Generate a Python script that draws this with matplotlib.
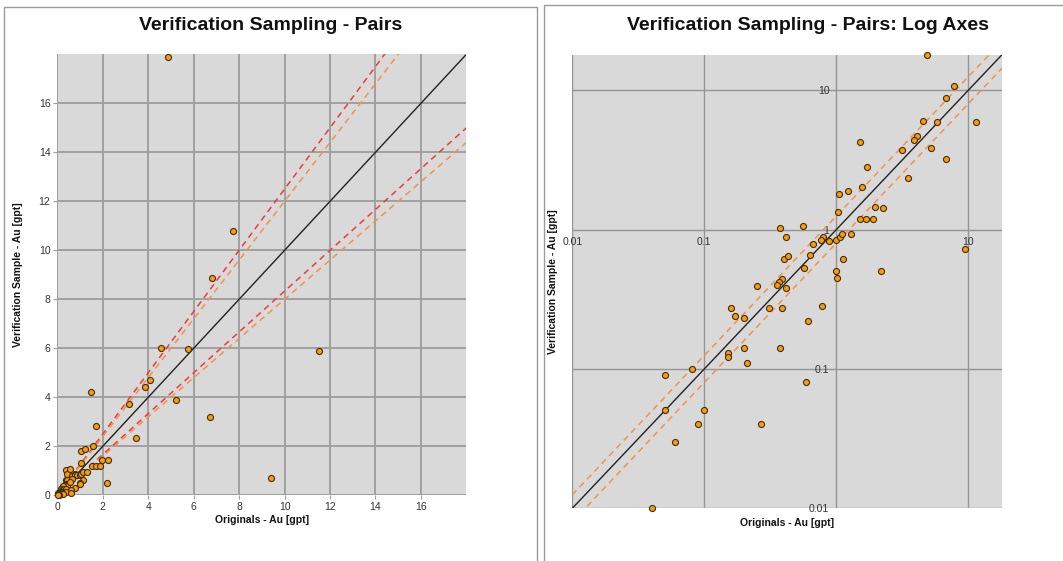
import matplotlib
matplotlib.use("Agg")
import matplotlib.pyplot as plt
from matplotlib.patches import Rectangle
import numpy as np

# ---- data (Originals vs Verification, Au gpt) ----
originals = [0.377, 0.418, 0.399, 0.428, 0.387, 0.367, 0.357, 0.418, 0.249, 0.160,
             0.170, 0.200, 0.309, 0.387, 0.200, 0.377, 0.151, 0.151, 0.209, 0.080,
             0.050, 0.050, 0.099, 0.0895, 0.268, 0.0596, 0.040, 0.558, 1.047, 1.233,
             1.028, 0.665, 0.791, 0.769, 0.879, 1.00, 1.06, 1.11, 1.30, 1.13,
             1.00, 1.02, 0.628, 0.573, 0.783, 0.614, 1.72, 1.56, 3.47, 1.96,
             2.24, 1.52, 1.69, 1.89, 2.19, 4.86, 7.74, 6.81, 4.56, 5.75,
             11.5, 4.08, 3.87, 3.16, 5.21, 6.73, 1.50, 9.40, 0.585]
verification = [1.03, 0.887, 0.62, 0.644, 0.444, 0.422, 0.402, 0.383, 0.391, 0.273,
                0.241, 0.231, 0.273, 0.273, 0.141, 0.141, 0.130, 0.121, 0.111, 0.100,
                0.091, 0.0506, 0.0506, 0.040, 0.040, 0.030, 0.010, 1.06, 1.79, 1.90,
                1.33, 0.794, 0.881, 0.848, 0.834, 0.844, 0.887, 0.936, 0.936, 0.62,
                0.506, 0.451, 0.655, 0.526, 0.282, 0.221, 2.81, 2.02, 2.33, 1.46,
                1.44, 1.20, 1.20, 1.20, 0.503, 17.9, 10.8, 8.85, 6.00, 5.96,
                5.90, 4.71, 4.43, 3.72, 3.88, 3.19, 4.22, 0.72, 0.0807]

lin_ticks = [0, 2, 4, 6, 8, 10, 12, 14, 16]
lin_limit = 18
log_ticks = [0.01, 0.1, 1, 10]
log_xtick_labels = ["0.01", "0.1", "", "10"]
log_ytick_labels = ["0.01", "0.1", "1", "10"]
log_limits = (0.01, 18)

# tolerance lines: slopes
red_slopes = [1.25, 1 / 1.2]
orange_slopes = [1.2, 0.8]
log_orange_slopes = [1.25, 0.8]

BG = "#d9d9d9"
GRID = "#a0a0a0"
MARK = "#ff9a00"
EDGE = "#3a2e1a"
RED = "#ee3a3a"
ORANGE = "#f5904a"
TXT = "#333333"

title_font = ["Liberation Sans Narrow", "Liberation Sans", "DejaVu Sans"]
body_font = ["Liberation Sans", "DejaVu Sans"]
plt.rcParams["font.family"] = body_font

fig = plt.figure(figsize=(10.63, 5.61), dpi=100)
W, H = 1063.0, 561.0

# panel frames
fig.add_artist(Rectangle((4 / W, -0.02), (537 - 4) / W, (561 - 7) / H + 0.02,
                         transform=fig.transFigure, fill=False, edgecolor="#9a9a9a", lw=1.0))
fig.add_artist(Rectangle((544 / W, -0.02), 0.5, (561 - 5) / H + 0.02,
                         transform=fig.transFigure, fill=False, edgecolor="#9a9a9a", lw=1.0))

fig.text(271 / W, 1 - 25 / H, "Verification Sampling - Pairs", ha="center", va="center",
         fontsize=14, fontweight="bold", family=title_font, color="#111111")
fig.text(808 / W, 1 - 25 / H, "Verification Sampling - Pairs: Log Axes", ha="center", va="center",
         fontsize=14, fontweight="bold", family=title_font, color="#111111")

# ---------------- left: linear axes ----------------
ax1 = fig.add_axes([57.3 / W, (H - 495.3) / H, 409.1 / W, 441.0 / H])
ax1.set_facecolor(BG)
ax1.set_axisbelow(True)
ax1.set_xlim(0, lin_limit)
ax1.set_ylim(0, lin_limit)
ax1.set_xticks(lin_ticks)
ax1.set_yticks(lin_ticks)
ax1.grid(True, color=GRID, lw=1.4)
for s in ax1.spines.values():
    s.set_visible(False)
ax1.tick_params(length=3, color=GRID, labelsize=7.5, labelcolor=TXT, pad=2)

xx = np.array([0, lin_limit])
ax1.plot(xx, xx, color="#222222", lw=1.0, zorder=2)
for k in red_slopes:
    ax1.plot(xx, k * xx, color=RED, lw=1.1, dashes=(4, 3), zorder=2)
for k in orange_slopes:
    ax1.plot(xx, k * xx, color=ORANGE, lw=1.1, dashes=(4, 3), zorder=2)
ax1.scatter(originals, verification, s=19, c=MARK, edgecolors=EDGE, linewidths=0.8,
            zorder=3, clip_on=False)
ax1.set_xlabel("Originals - Au [gpt]", fontsize=7.5, fontweight="bold", color="#111111")
ax1.set_ylabel("Verification Sample - Au [gpt]", fontsize=7.5, fontweight="bold", color="#111111")
ax1.xaxis.set_label_coords(0.5, -0.045)
ax1.yaxis.set_label_coords(-0.083, 0.5)

# ---------------- right: log axes ----------------
ax2 = fig.add_axes([572.3 / W, (H - 508.3) / H, 429.7 / W, 453.6 / H])
ax2.set_facecolor(BG)
ax2.set_axisbelow(True)
ax2.set_xscale("log")
ax2.set_yscale("log")
ax2.set_xlim(*log_limits)
ax2.set_ylim(*log_limits)
ax2.set_xticks(log_ticks)
ax2.set_xticklabels(log_xtick_labels)
ax2.set_yticks(log_ticks)
ax2.set_yticklabels(log_ytick_labels)
ax2.minorticks_off()
ax2.grid(True, which="major", color="#959595", lw=1.0)
for s in ax2.spines.values():
    s.set_color("none")
ax2.spines["left"].set_position(("data", 1))
ax2.spines["bottom"].set_position(("data", 1))
ax2.tick_params(axis="x", length=0, labelsize=7.5, labelcolor=TXT, pad=5)
ax2.tick_params(axis="y", length=0, labelsize=7.5, labelcolor=TXT, pad=5)

lx = np.array(log_limits)
ax2.plot(lx, lx, color="#222222", lw=1.0, zorder=2)
for k in log_orange_slopes:
    ax2.plot(lx, k * lx, color=ORANGE, lw=1.1, dashes=(4, 3), zorder=2)
ax2.scatter(originals, verification, s=19, c=MARK, edgecolors=EDGE, linewidths=0.8,
            zorder=3, clip_on=False)
ax2.set_xlabel("Originals - Au [gpt]", fontsize=7.5, fontweight="bold", color="#111111")
ax2.set_ylabel("Verification Sample - Au [gpt]", fontsize=7.5, fontweight="bold", color="#111111")
ax2.xaxis.set_label_coords(0.5, -0.022)
ax2.yaxis.set_label_coords(-0.033, 0.5)

fig.savefig("out.png", dpi=100, facecolor="white")
